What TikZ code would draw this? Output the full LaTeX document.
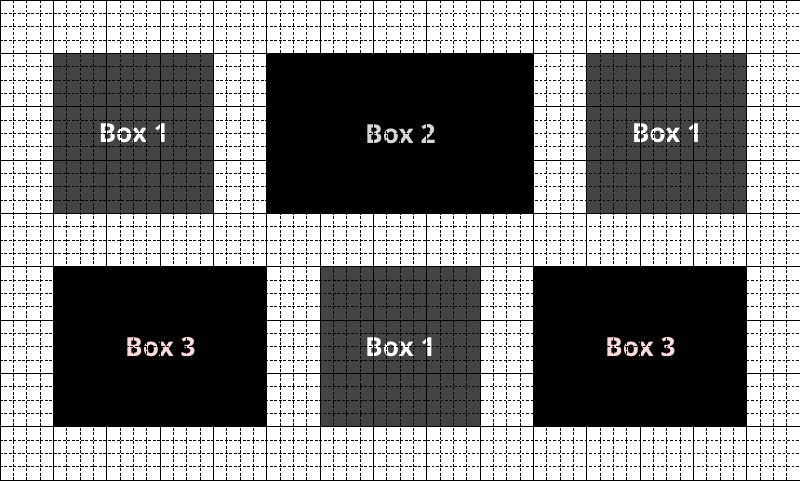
\documentclass[tikz,border=0pt]{standalone}
\usepackage{fontspec}
\setsansfont{Open Sans}
\usepackage{tikz}
\usetikzlibrary{positioning,calc}
\definecolor{boxgray}{RGB}{68,68,68}
\definecolor{boxpink}{RGB}{255,218,218}
\definecolor{boxlight}{RGB}{214,214,214}

\begin{document}
\begin{tikzpicture}[
        box/.style={minimum width=#1cm, minimum height=3cm, inner sep=0pt, anchor=north west,
            font=\sffamily\bfseries\fontsize{14}{16}\selectfont},
        minorgrid/.style={black, line width=0.4pt, dash pattern=on 1.4pt off 1pt},
        majorgrid/.style={black, line width=0.5pt}
    ]
            \useasboundingbox (0,-9.02) rectangle (15,0);
            \foreach \n/\x/\y/\w/\c/\t/\l in {boxA/1/1/3/boxgray/white/Box 1, boxB/5/1/5/black/boxlight/Box 2, boxC/11/1/3/boxgray/white/Box 1, boxD/1/5/4/black/boxpink/Box 3, boxE/6/5/3/boxgray/white/Box 1, boxF/10/5/4/black/boxpink/Box 3} {
                \node[box=\w, fill=\c, text=\t] (\n) at (\x,-\y) {\l};
            }
            \draw[minorgrid] (0,-9) grid[step=0.25] (15,0);
            \draw[majorgrid] (0,-9) grid[step=1] (15,0);
        \end{tikzpicture}
\end{document}
